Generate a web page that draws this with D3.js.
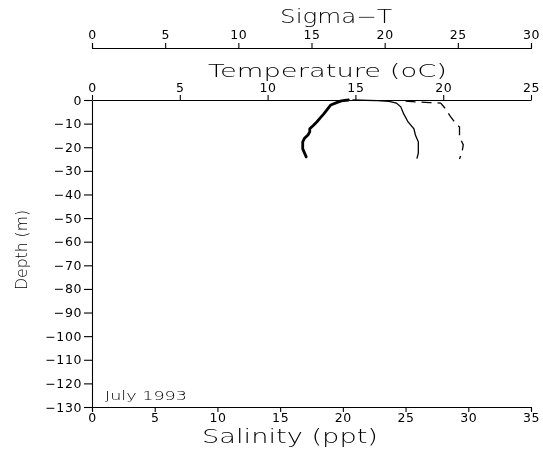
<!DOCTYPE html>
<html>
<head>
<meta charset="utf-8">
<script src="https://cdn.jsdelivr.net/npm/d3@7"></script>
<style>
  html, body { margin: 0; padding: 0; background: #fff; }
  svg { display: block; will-change: transform; }
  .axis path, .axis line { stroke: #000; stroke-width: 1.1; }
  .axis text { font-family: "DejaVu Sans", sans-serif; font-weight: 400; font-size: 12.5px; fill: #000; letter-spacing: 0.6px; }
  .title { font-family: "DejaVu Sans", sans-serif; font-weight: 200; fill: #000; }
</style>
</head>
<body>
<script>
// Axis tick values
const tempTicks = [0, 5, 10, 15, 20, 25];
const sigmaTicks = [0, 5, 10, 15, 20, 25, 30];
const salinityTicks = [0, 5, 10, 15, 20, 25, 30, 35];
const depthTicks = [0, -10, -20, -30, -40, -50, -60, -70, -80, -90, -100, -110, -120, -130];

// Temperature profile (oC) vs depth (m)
const tempDepth  = [0, 0.4, 0.9, 2.1, 4.0, 5.9, 7.6, 9.3, 10.8, 12.2, 13.5, 14.8, 16.2, 17.7, 19.2, 20.7, 22.4, 24.1];
const tempValues = [14.6, 14.2, 14.0, 13.6, 13.4, 13.2, 13.0, 12.8, 12.6, 12.4, 12.4, 12.3, 12.1, 12.0, 12.0, 12.0, 12.1, 12.2];

// Sigma-T profile vs depth (m)
const sigmaDepth  = [0, 0.3, 0.6, 1.3, 2.9, 5.9, 9.3, 12.2, 14.8, 17.7, 20.7, 22.5, 24.8];
const sigmaValues = [17.8, 19.5, 20.3, 20.8, 21.1, 21.3, 21.6, 22.0, 22.1, 22.3, 22.3, 22.3, 22.2];

// Salinity profile (ppt) vs depth (m)
const salDepth  = [0.5, 0.8, 1.1, 1.3, 3.8, 7.2, 10.0, 11.4, 15.6, 19.0, 22.0, 25.0];
const salValues = [25.0, 25.8, 26.9, 27.8, 28.2, 28.6, 29.0, 29.3, 29.3, 29.6, 29.5, 29.3];

const W = 543, H = 453;
const xL = 92, xR = 531, yTop = 100, yBot = 407, ySigma = 48;

const svg = d3.select("body").append("svg").attr("width", W).attr("height", H);

const tempX = d3.scaleLinear().domain([0, 25]).range([xL, xR]);
const sigmaX = d3.scaleLinear().domain([0, 30]).range([xL, xR]);
const salX = d3.scaleLinear().domain([0, 35]).range([xL, xR]);
const depthY = d3.scaleLinear().domain([-130, 0]).range([yBot, yTop]);

const fmt = d3.format("d");

svg.append("g").attr("class", "axis")
  .attr("transform", `translate(0,${ySigma})`)
  .call(d3.axisTop(sigmaX).tickValues(sigmaTicks).tickSizeInner(5).tickSizeOuter(5).tickPadding(4).tickFormat(fmt));

svg.append("g").attr("class", "axis")
  .attr("transform", `translate(0,${yTop})`)
  .call(d3.axisTop(tempX).tickValues(tempTicks).tickSizeInner(5).tickSizeOuter(0).tickPadding(3).tickFormat(fmt));

svg.append("g").attr("class", "axis")
  .attr("transform", `translate(0,${yBot})`)
  .call(d3.axisBottom(salX).tickValues(salinityTicks).tickSizeInner(5).tickSizeOuter(5).tickPadding(1).tickFormat(fmt));

svg.append("g").attr("class", "axis")
  .attr("transform", `translate(${xL},0)`)
  .call(d3.axisLeft(depthY).tickValues(depthTicks).tickSizeInner(8).tickSizeOuter(0).tickPadding(2).tickFormat(fmt));

// Axis titles, stretched to the wide plotter lettering
const title = (x, y, size, len, str, rot) => svg.append("text").attr("class", "title")
  .attr("transform", rot ? `translate(${x},${y}) rotate(-90)` : null)
  .attr("x", rot ? 0 : x).attr("y", rot ? 0 : y)
  .attr("font-size", size)
  .attr("textLength", len).attr("lengthAdjust", "spacingAndGlyphs")
  .text(str);

title(280, 23, 19, 112, "Sigma\u2212T");
title(208, 77, 18, 239, "Temperature (oC)");
title(202, 443, 20, 176, "Salinity (ppt)");
title(27, 290, 15, 80, "Depth (m)", true);
title(105, 400, 13, 82, "July 1993");

// Profiles
const profile = (xs, vals, depths) => d3.line()
  .x((d, i) => xs(vals[i]))
  .y((d, i) => depthY(-depths[i]))(vals);

svg.append("path")
  .attr("d", profile(tempX, tempValues, tempDepth))
  .attr("fill", "none").attr("stroke", "#000").attr("stroke-width", 2.8)
  .attr("stroke-linejoin", "round").attr("stroke-linecap", "round");

svg.append("path")
  .attr("d", profile(sigmaX, sigmaValues, sigmaDepth))
  .attr("fill", "none").attr("stroke", "#000").attr("stroke-width", 1.3);

svg.append("path")
  .attr("d", profile(salX, salValues, salDepth))
  .attr("fill", "none").attr("stroke", "#000").attr("stroke-width", 1.3)
  .attr("stroke-dasharray", "10,6");
</script>
</body>
</html>
